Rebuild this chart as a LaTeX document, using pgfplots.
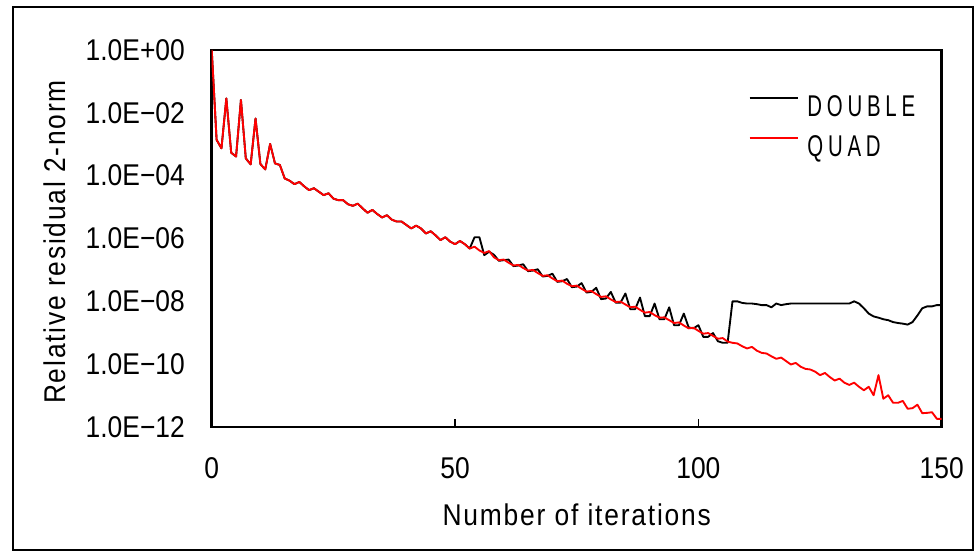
\documentclass[border=0pt]{standalone}
\usepackage{pgfplots}
\pgfplotsset{compat=1.18}
\usepackage{pgfplotstable}
\usepackage{fontspec}
\setmainfont{Liberation Sans}[FakeStretch=0.88]
\newfontfamily\legfont{Liberation Sans}[FakeStretch=0.68, LetterSpace=16]

% log10 of relative residual 2-norm, QUAD
\pgfplotstableread{
i ly
0 0
1 -2.86
2 -3.13
3 -1.54
4 -3.27
5 -3.39
6 -1.59
7 -3.45
8 -3.64
9 -2.18
10 -3.63
11 -3.80
12 -2.99
13 -3.61
14 -3.66
15 -4.09
16 -4.16
17 -4.27
18 -4.20
19 -4.34
20 -4.46
21 -4.40
22 -4.51
23 -4.62
24 -4.56
25 -4.73
26 -4.78
27 -4.78
28 -4.91
29 -4.96
30 -4.89
31 -5.04
32 -5.18
33 -5.09
34 -5.22
35 -5.33
36 -5.26
37 -5.40
38 -5.46
39 -5.46
40 -5.57
41 -5.68
42 -5.59
43 -5.68
44 -5.84
45 -5.77
46 -5.90
47 -6.05
48 -5.96
49 -6.10
50 -6.18
51 -6.08
52 -6.18
53 -6.32
54 -6.26
55 -6.38
56 -6.46
57 -6.40
58 -6.60
59 -6.69
60 -6.67
61 -6.77
62 -6.86
63 -6.84
64 -6.94
65 -7.02
66 -7.00
67 -7.10
68 -7.19
69 -7.17
70 -7.27
71 -7.36
72 -7.34
73 -7.44
74 -7.52
75 -7.50
76 -7.60
77 -7.69
78 -7.67
79 -7.77
80 -7.86
81 -7.84
82 -7.94
83 -8.02
84 -8.01
85 -8.10
86 -8.19
87 -8.17
88 -8.27
89 -8.36
90 -8.34
91 -8.44
92 -8.52
93 -8.51
94 -8.60
95 -8.69
96 -8.67
97 -8.77
98 -8.86
99 -8.84
100 -8.94
101 -9.03
102 -9.01
103 -9.10
104 -9.19
105 -9.17
106 -9.28
107 -9.32
108 -9.34
109 -9.43
110 -9.50
111 -9.45
112 -9.57
113 -9.64
114 -9.66
115 -9.75
116 -9.83
117 -9.79
118 -9.90
119 -10.01
120 -9.96
121 -10.08
122 -10.15
123 -10.17
124 -10.24
125 -10.35
126 -10.28
127 -10.41
128 -10.52
129 -10.46
130 -10.59
131 -10.66
132 -10.59
133 -10.72
134 -10.83
135 -10.72
136 -10.99
137 -10.35
138 -11.10
139 -10.99
140 -11.23
141 -11.23
142 -11.17
143 -11.42
144 -11.40
145 -11.29
146 -11.56
147 -11.55
148 -11.53
149 -11.74
150 -11.74
}\quaddata

% log10 of relative residual 2-norm, DOUBLE
\pgfplotstableread{
i ly
0 0
1 -2.86
2 -3.13
3 -1.54
4 -3.27
5 -3.39
6 -1.59
7 -3.45
8 -3.64
9 -2.18
10 -3.63
11 -3.80
12 -2.99
13 -3.61
14 -3.66
15 -4.09
16 -4.16
17 -4.27
18 -4.20
19 -4.34
20 -4.46
21 -4.40
22 -4.51
23 -4.62
24 -4.56
25 -4.73
26 -4.78
27 -4.78
28 -4.91
29 -4.96
30 -4.89
31 -5.04
32 -5.18
33 -5.09
34 -5.22
35 -5.33
36 -5.26
37 -5.40
38 -5.46
39 -5.46
40 -5.57
41 -5.68
42 -5.59
43 -5.68
44 -5.84
45 -5.77
46 -5.90
47 -6.05
48 -5.96
49 -6.10
50 -6.18
51 -6.08
52 -6.18
53 -6.32
54 -5.96
55 -5.96
56 -6.53
57 -6.42
58 -6.52
59 -6.71
60 -6.69
61 -6.67
62 -6.88
63 -6.86
64 -6.82
65 -7.04
66 -7.02
67 -6.98
68 -7.21
69 -7.19
70 -7.12
71 -7.38
72 -7.36
73 -7.29
74 -7.55
75 -7.53
76 -7.42
77 -7.72
78 -7.70
79 -7.57
80 -7.93
81 -7.91
82 -7.70
83 -8.04
84 -8.04
85 -7.75
86 -8.25
87 -8.25
88 -7.88
89 -8.47
90 -8.47
91 -8.07
92 -8.57
93 -8.57
94 -8.19
95 -8.76
96 -8.76
97 -8.39
98 -8.83
99 -8.86
100 -8.76
101 -9.13
102 -9.13
103 -9.01
104 -9.27
105 -9.32
106 -9.32
107 -8.00
108 -8.00
109 -8.05
110 -8.07
111 -8.07
112 -8.09
113 -8.12
114 -8.12
115 -8.19
116 -8.07
117 -8.12
118 -8.09
119 -8.07
120 -8.07
121 -8.07
122 -8.07
123 -8.07
124 -8.07
125 -8.07
126 -8.07
127 -8.07
128 -8.07
129 -8.07
130 -8.07
131 -8.07
132 -8.00
133 -8.07
134 -8.22
135 -8.39
136 -8.48
137 -8.52
138 -8.57
139 -8.60
140 -8.66
141 -8.69
142 -8.71
143 -8.74
144 -8.66
145 -8.45
146 -8.22
147 -8.16
148 -8.16
149 -8.12
150 -8.12
}\doubledata

\begin{document}
\begin{tikzpicture}[x=0.75pt,y=0.75pt]
\useasboundingbox (0,0) rectangle (980,554);
\draw[line width=1.5pt] (13,4) rectangle (973,547);
\begin{axis}[
  at={(158.8pt,95.25pt)}, anchor=south west,
  scale only axis, width=547.5pt, height=282.75pt,
  xmin=0, xmax=150, ymin=-12, ymax=0,
  axis line style={line width=2pt},
  xtick={0,50,100,150}, xticklabels={0,50,100,150},
  ytick={-12,-10,-8,-6,-4,-2,0},
  yticklabels={1.0E−12,1.0E−10,1.0E−08,1.0E−06,1.0E−04,1.0E−02,1.0E+00},
  xtick pos=lower, ytick pos=left,
  tick align=inside, major tick length=6pt,
  xtick style={line width=1.1pt, black},
  ytick style={draw=none},
  ticklabel style={font=\fontsize{22.5pt}{27pt}\selectfont},
  yticklabel style={inner sep=0pt, xshift=-20pt},
  xticklabel style={inner sep=0pt, yshift=-22.5pt},
  xlabel={Number of iterations},
  ylabel={Relative residual 2-norm},
  label style={font=\fontsize{22.5pt}{27pt}\selectfont\addfontfeature{LetterSpace=6}},
  xlabel style={at={(axis description cs:0.5,0)}, anchor=center, yshift=-66pt},
  ylabel style={at={(axis description cs:-0.2147,0.4907)}, anchor=center, rotate=0},
  legend style={at={(axis description cs:0.736,0.8814)}, anchor=north west,
    draw=none, fill=none, inner sep=0pt, outer sep=0pt, row sep=14pt,
    font=\legfont\fontsize{22.5pt}{27pt}\selectfont,
    nodes={inner sep=0pt, text height=16pt, text depth=0pt},
    /tikz/every odd column/.append style={column sep=6.75pt}},
  legend cell align=left,
  legend image code/.code={\draw[#1, line width=1pt] (0pt,5.5pt) -- (36pt,5.5pt);},
]
\addplot[black, line width=1.4pt, line join=round] table[x=i, y=ly] {\doubledata};
\addlegendentry{DOUBLE}
\addplot[red, line width=1.4pt, line join=round] table[x=i, y=ly] {\quaddata};
\addlegendentry{QUAD}
\end{axis}
\end{tikzpicture}
\end{document}
